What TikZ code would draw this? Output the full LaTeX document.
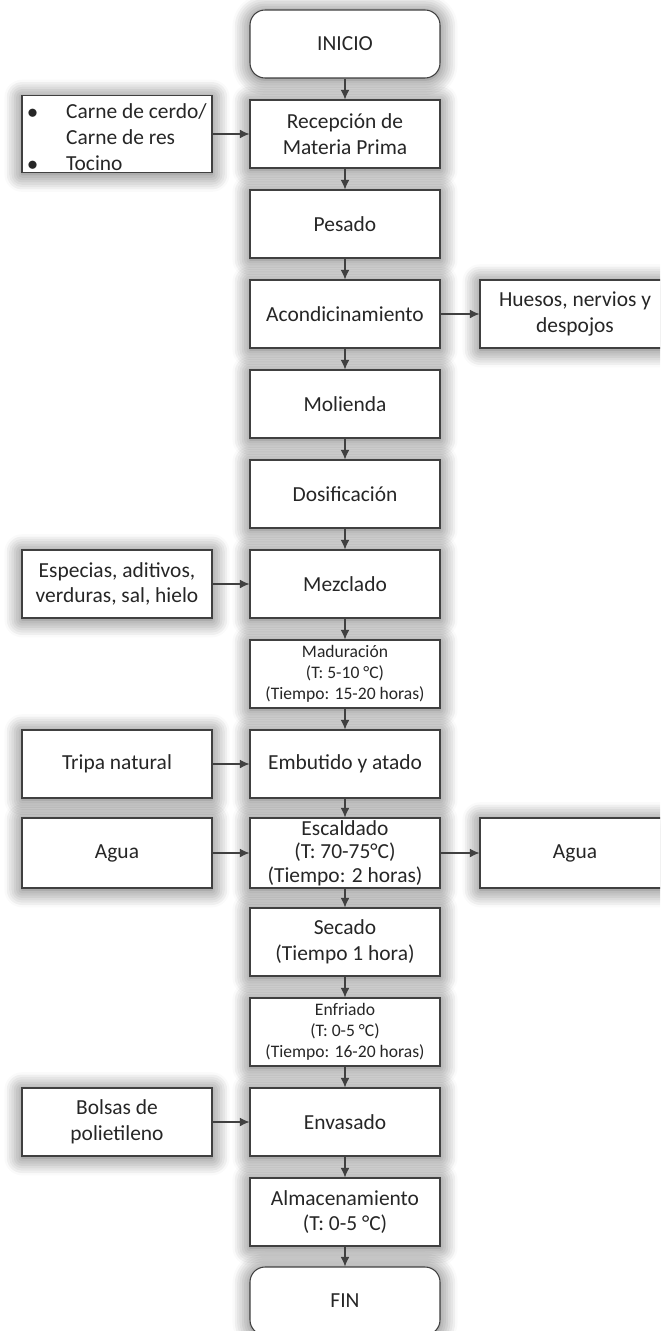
\documentclass[tikz,border=0pt]{standalone}
\usepackage{fontspec}
\setmainfont{Carlito}
\usepackage{tikz}
\usepackage{xcolor}
\usetikzlibrary{arrows,arrows.meta,shadows.blur}

\begin{document}
\begin{tikzpicture}[x=0.02cm,y=-0.02cm,
  paso/.style={draw=black!75,line width=0.6pt,fill=white,minimum width=3.8cm,minimum height=1.36cm,
    inner xsep=2pt,inner ysep=0pt,align=center,text=black!85,font=\fontsize{12.2}{14.6}\selectfont,
    blur shadow={shadow xshift=0pt,shadow yshift=-1pt,shadow blur radius=10pt,shadow opacity=65,shadow blur steps=8}},
  chico/.style={font=\fontsize{10}{12}\selectfont},
  alto/.style={minimum height=1.4cm},
  terminal/.style={paso,rounded corners=0.3cm},
  flecha/.style={-{Latex[length=5.5pt,width=5pt]},draw=black!75,line width=0.6pt}]
\useasboundingbox (0,0) rectangle (660,1331);
\clip (0,0) rectangle (660,1331);
% columna central
\node[terminal] (inicio) at (345,44) {INICIO};
\node[paso] (recepcion) at (345,134) {Recepción de\\Materia Prima};
\node[paso] (pesado) at (345,224) {Pesado};
\node[paso] (acond) at (345,314) {Acondicinamiento};
\node[paso] (molienda) at (345,404) {Molienda};
\node[paso] (dosif) at (345,494) {Dosificación};
\node[paso] (mezclado) at (345,584) {Mezclado};
\node[paso,chico] (maduracion) at (345,674) {Maduración\\(T: 5-10 °C)\\(Tiempo: 15-20 horas)};
\node[paso] (embutido) at (345,764) {Embutido y atado};
\node[paso,alto,font=\fontsize{12.2}{13.4}\selectfont] (escaldado) at (345,853) {Escaldado\\(T: 70-75°C)\\(Tiempo: 2 horas)};
\node[paso] (secado) at (345,942) {Secado\\(Tiempo 1 hora)};
\node[paso,chico] (enfriado) at (345,1032) {Enfriado\\(T: 0-5 °C)\\(Tiempo: 16-20 horas)};
\node[paso] (envasado) at (345,1122) {Envasado};
\node[paso] (almacen) at (345,1212) {Almacenamiento\\(T: 0-5 °C)};
\node[terminal] (fin) at (345,1301) {FIN};
% entradas y salidas
\node[paso] (carne) at (117,134) {\raisebox{-3pt}[\height][\depth]{\begin{tabular}{@{}l@{\hspace{16pt}}l@{}}
  $\bullet$ & Carne de cerdo/\\ & Carne de res\\ $\bullet$ & Tocino\end{tabular}}};
\node[paso] (huesos) at (575,314) {Huesos, nervios y\\despojos};
\node[paso] (especias) at (117,584) {Especias, aditivos,\\verduras, sal, hielo};
\node[paso] (tripa) at (117,764) {Tripa natural};
\node[paso,alto] (agua1) at (117,853) {Agua};
\node[paso,alto] (agua2) at (575,853) {Agua};
\node[paso] (bolsas) at (117,1122) {Bolsas de\\polietileno};
% flechas
\foreach \a/\b in {inicio/recepcion,recepcion/pesado,pesado/acond,acond/molienda,molienda/dosif,
  dosif/mezclado,mezclado/maduracion,maduracion/embutido,embutido/escaldado,escaldado/secado,
  secado/enfriado,enfriado/envasado,envasado/almacen,almacen/fin}
  \draw[flecha] (\a) -- (\b);
\foreach \a/\b in {carne/recepcion,acond/huesos,especias/mezclado,tripa/embutido,
  agua1/escaldado,escaldado/agua2,bolsas/envasado}
  \draw[flecha] (\a) -- (\b);
\end{tikzpicture}
\end{document}
